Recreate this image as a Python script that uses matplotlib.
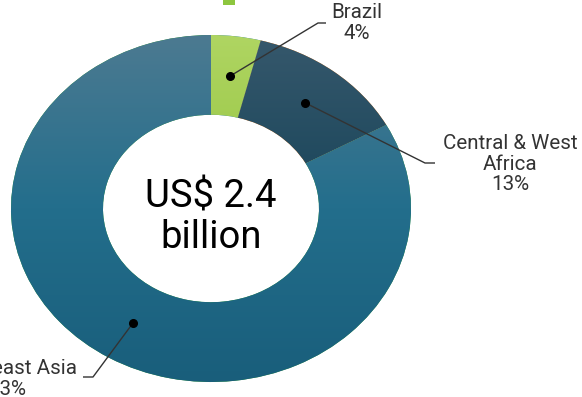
import numpy as np
import matplotlib
matplotlib.use("Agg")
import matplotlib.pyplot as plt
from matplotlib.colors import LinearSegmentedColormap
from matplotlib.patches import Rectangle

# Market split by producing region
regions = ["Brazil", "Central & West\nAfrica", "Southeast Asia"]
shares = [4, 13, 83]
total_label = "US$ 2.4\nbillion"

# vertical shading of each slice: (bottom, middle, top of ring)
slice_shades = [("#7fb428", "#96c541", "#afd562"),
                ("#0f394c", "#19455a", "#36586c"),
                ("#195e7b", "#236e8c", "#4c7a91")]

W, H = 582, 397
fig = plt.figure(figsize=(W / 100, H / 100), dpi=100)
fig.patch.set_facecolor("white")

# ring axes (slightly wider than tall, so the ring is drawn as an ellipse)
ax = fig.add_axes([11 / W, (H - 382) / H, 400 / W, 347 / H])
wedges, _ = ax.pie(shares, startangle=90, counterclock=False, radius=1.0,
                   wedgeprops=dict(width=0.46, linewidth=0))
ax.set_aspect("auto")
ax.set_xlim(-1, 1)
ax.set_ylim(-1, 1)
ax.axis("off")

grad = np.linspace(0, 1, 256).reshape(-1, 1)
for w, shades in zip(wedges, slice_shades):
    cmap = LinearSegmentedColormap.from_list("shade", list(shades))
    im = ax.imshow(grad, extent=(-1, 1, -1, 1), origin="lower", cmap=cmap,
                   aspect="auto", interpolation="bilinear", zorder=3)
    im.set_clip_path(w)

ax.text(0, -0.05, total_label, ha="center", va="center", fontsize=27.5,
        family="Roboto", color="black", linespacing=1.12, zorder=5)

# overlay in pixel units for leader lines and labels
ov = fig.add_axes([0, 0, 1, 1], zorder=10)
ov.set_xlim(0, W)
ov.set_ylim(H, 0)
ov.axis("off")
ov.patch.set_alpha(0)

# (elbow, end of leader, label centre)
leaders = [((318, 23), (326, 23), (357, 23)),
           ((425, 163), (435, 163), (510, 164)),
           ((93, 377), (83, 377), (8, 379))]

to_ov = ax.transData + ov.transData.inverted()
cum = np.cumsum([0] + shares)
r_mid = 1 - 0.46 / 2
for i, (name, share) in enumerate(zip(regions, shares)):
    ang = np.deg2rad(90 - 360 * (cum[i] + share / 2) / 100)
    dx, dy = to_ov.transform((r_mid * np.cos(ang), r_mid * np.sin(ang)))
    elbow, end, lab = leaders[i]
    ov.plot([dx, elbow[0], end[0]], [dy, elbow[1], end[1]],
            color="#333333", lw=1.0, solid_capstyle="butt")
    ov.plot(dx, dy, "o", color="black", ms=5.5)
    ov.text(lab[0], lab[1], f"{name}\n{share}%", ha="center", va="center",
            fontsize=14.8, family="Roboto", color="#333333", linespacing=1.1)

# edge of the legend swatch peeking in at the top
ov.add_patch(Rectangle((223, -2), 12, 7, color="#8dc63f", lw=0))

fig.savefig("out.png", dpi=100, facecolor="white")
